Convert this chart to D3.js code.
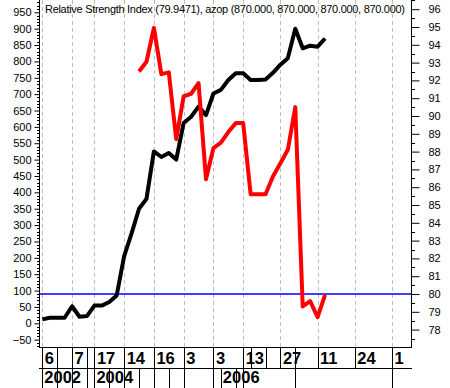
<!DOCTYPE html>
<html>
<head>
<meta charset="utf-8">
<script src="https://cdn.jsdelivr.net/npm/d3@7"></script>
<style>
  html, body { margin: 0; padding: 0; background: #fff; }
  svg { display: block; font-family: "Liberation Sans", Arial, sans-serif; }
</style>
</head>
<body>
<div id="chart"></div>
<script>
// azop values (left axis), one per bar index starting at 0
const azopValues = [12, 17, 17, 17, 52, 20, 22, 54, 54, 65, 85, 205, 275, 350, 380, 525, 508, 520, 500, 612,
    631, 662, 636, 702, 713, 743, 764, 764, 743, 743, 745, 765, 790, 810, 900, 840, 848, 845, 870];

// RSI values (right axis), start at bar index 13
const rsiStart = 13;
const rsiValues = [92.5, 93.05, 94.95, 92.35, 92.45, 88.7, 91.1, 91.25, 91.85, 86.45, 88.2, 88.5, 89.1,
    89.6, 89.6, 85.6, 85.6, 85.6, 86.6, 87.35, 88.1, 90.5, 79.3, 79.6, 78.7, 79.95];
const rsiLevel = 80;

// date axis
const dayTickIndex = [0, 4, 7, 11, 15, 19, 23, 27, 32, 37, 42, 47];
const dayLabels = ["6", "7", "17", "14", "16", "3", "3", "13", "27", "11", "24", "1"];
const yearTickIndex = [0, 7, 24];
const yearLabels = ["2002", "2004", "2006"];
const extraRow1Index = [2, 6, 28, 30, 34];
const extraRow2Index = [2, 6, 9, 13, 17, 26, 34];

const titleText = "Relative Strength Index (79.9471), azop (870.000, 870.000, 870.000, 870.000)";

const width = 450;
const height = 388;
const plotLeft = 39, plotRight = 411, plotTop = 0, plotBottom = 347;
const row1Bottom = 368;

const x = d3.scaleLinear().domain([0, 47]).range([42.3, 392]);
const yLeft = d3.scaleLinear().domain([0, 950]).range([323.3, 12.3]);
const yRight = d3.scaleLinear().domain([80, 96]).range([294, 9.2]);

const svg = d3.select("#chart").append("svg")
    .attr("width", width)
    .attr("height", height)
    .attr("viewBox", [0, 0, width, height]);

// dashed vertical grid
svg.append("g")
    .selectAll("line")
    .data(dayTickIndex)
    .join("line")
    .attr("x1", d => Math.round(x(d)) + 0.5)
    .attr("x2", d => Math.round(x(d)) + 0.5)
    .attr("y1", plotTop)
    .attr("y2", plotBottom)
    .attr("stroke", "#bdbdbd")
    .attr("stroke-dasharray", "4,3");

// left axis
const leftAxis = d3.axisLeft(yLeft)
    .tickValues(d3.range(-50, 951, 50))
    .tickSize(5)
    .tickFormat(d3.format("d"));
svg.append("g")
    .attr("transform", `translate(${plotLeft + 0.5},0)`)
    .call(leftAxis)
    .call(g => g.select(".domain").remove())
    .call(g => g.selectAll("text").attr("font-size", 11).attr("x", -8).attr("font-family", "Liberation Sans, Arial, sans-serif"));

svg.append("g")
    .selectAll("line")
    .data(d3.range(-70, 981, 10).filter(v => v % 50 !== 0))
    .join("line")
    .attr("x1", plotLeft - 2)
    .attr("x2", plotLeft)
    .attr("y1", d => Math.round(yLeft(d)) + 0.5)
    .attr("y2", d => Math.round(yLeft(d)) + 0.5)
    .attr("stroke", "black");

// right axis
const rightAxis = d3.axisRight(yRight)
    .tickValues(d3.range(78, 97, 1))
    .tickSize(8)
    .tickFormat(d3.format("d"));
svg.append("g")
    .attr("transform", `translate(${plotRight + 0.5},0)`)
    .call(rightAxis)
    .call(g => g.select(".domain").remove())
    .call(g => g.selectAll("text").attr("font-size", 11).attr("x", 17).attr("font-family", "Liberation Sans, Arial, sans-serif"));

svg.append("g")
    .selectAll("line")
    .data(d3.range(77.5, 96.6, 1))
    .join("line")
    .attr("x1", plotRight)
    .attr("x2", plotRight + 4)
    .attr("y1", d => Math.round(yRight(d)) + 0.5)
    .attr("y2", d => Math.round(yRight(d)) + 0.5)
    .attr("stroke", "black");

// frame
const frame = svg.append("g").attr("stroke", "black").attr("fill", "none");
frame.append("line").attr("x1", plotLeft + 0.5).attr("x2", plotLeft + 0.5).attr("y1", plotTop).attr("y2", plotBottom);
frame.append("line").attr("x1", plotRight + 0.5).attr("x2", plotRight + 0.5).attr("y1", plotTop).attr("y2", plotBottom);
frame.append("line").attr("x1", plotLeft).attr("x2", plotRight + 1).attr("y1", plotBottom + 0.5).attr("y2", plotBottom + 0.5);
frame.append("line").attr("x1", plotLeft).attr("x2", plotRight + 1).attr("y1", row1Bottom + 0.5).attr("y2", row1Bottom + 0.5);

// title
svg.append("text")
    .attr("x", 45)
    .attr("y", 13)
    .attr("font-size", 11)
    .attr("textLength", 360)
    .attr("lengthAdjust", "spacing")
    .text(titleText);

// RSI reference level
svg.append("line")
    .attr("x1", plotLeft + 1)
    .attr("x2", plotRight)
    .attr("y1", yRight(rsiLevel))
    .attr("y2", yRight(rsiLevel))
    .attr("stroke", "#0000ff")
    .attr("stroke-width", 1.3);

// azop line
svg.append("path")
    .datum(azopValues)
    .attr("fill", "none")
    .attr("stroke", "black")
    .attr("stroke-width", 4)
    .attr("stroke-linejoin", "round")
    .attr("d", d3.line().x((d, i) => x(i)).y(d => yLeft(d)));

// RSI line
svg.append("path")
    .datum(rsiValues)
    .attr("fill", "none")
    .attr("stroke", "#ff0000")
    .attr("stroke-width", 4)
    .attr("stroke-linejoin", "round")
    .attr("d", d3.line().x((d, i) => x(i + rsiStart)).y(d => yRight(d)));

// date rows
const sep = svg.append("g").attr("stroke", "black");
sep.selectAll(".r1")
    .data(dayTickIndex.concat(extraRow1Index))
    .join("line")
    .attr("x1", d => Math.round(x(d)) + 0.5)
    .attr("x2", d => Math.round(x(d)) + 0.5)
    .attr("y1", plotBottom)
    .attr("y2", row1Bottom);
sep.selectAll(".r2")
    .data(yearTickIndex.concat(extraRow2Index, [4, 11, 15, 19, 23, 27, 47]))
    .join("line")
    .attr("x1", d => Math.round(x(d)) + 0.5)
    .attr("x2", d => Math.round(x(d)) + 0.5)
    .attr("y1", row1Bottom)
    .attr("y2", height);

svg.append("g")
    .selectAll("text")
    .data(dayLabels)
    .join("text")
    .attr("x", (d, i) => x(dayTickIndex[i]) + 2.5)
    .attr("y", 364)
    .attr("font-size", 16.5)
    .attr("font-weight", "bold")
    .text(d => d);

svg.append("g")
    .selectAll("text")
    .data(yearLabels)
    .join("text")
    .attr("x", (d, i) => x(yearTickIndex[i]) + 2)
    .attr("y", 383)
    .attr("font-size", 16.5)
    .attr("font-weight", "bold")
    .text(d => d);
</script>
</body>
</html>
